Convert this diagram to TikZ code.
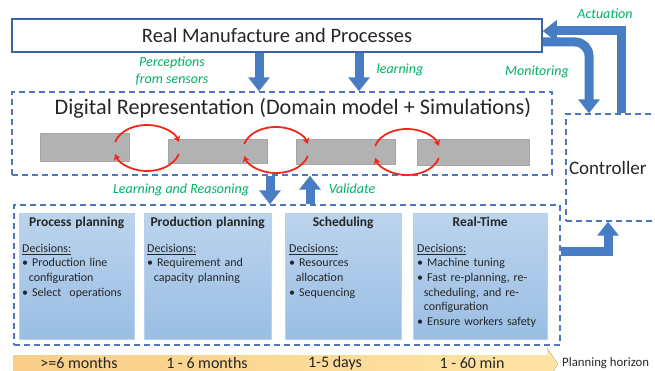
\documentclass[tikz,border=0pt]{standalone}
\usepackage{fontspec}
\setmainfont{Carlito}
\usepackage{xcolor}
\usetikzlibrary{arrows.meta, positioning}

\definecolor{arrowblue}{RGB}{72,125,196}
\definecolor{dashblue}{RGB}{79,118,190}
\definecolor{frameblue}{RGB}{60,100,165}
\definecolor{labgreen}{RGB}{0,176,100}
\definecolor{loopred}{RGB}{240,40,25}
\definecolor{bargray}{RGB}{178,178,178}
\definecolor{boxtop}{RGB}{188,212,237}
\definecolor{boxbot}{RGB}{154,190,228}
\definecolor{timeleft}{RGB}{249,206,135}
\definecolor{timeright}{RGB}{254,228,165}

\newcommand{\dectitlefont}{\fontsize{13.5}{15}\selectfont\bfseries}

\begin{document}
\begin{tikzpicture}[x=1pt, y=-1pt,
    every node/.style={text=black!85},
    realbox/.style={draw=frameblue, line width=1.5pt, fill=white, minimum width=530pt, minimum height=33pt, inner sep=0pt, font=\fontsize{20.5}{24}\selectfont},
    dashbox/.style={draw=dashblue, line width=1.4pt, dash pattern=on 6pt off 4pt, inner sep=0pt},
    simbar/.style={draw=black!35, fill=bargray, inner sep=0pt, anchor=north west},
    cyclearc/.style={draw=loopred, line width=1.8pt, -{Stealth[length=6pt,width=7pt]}},
    fatarrow/.style={draw=arrowblue, line width=9pt, -{Triangle[width=21pt,length=14pt]}},
    decbox/.style={draw=boxbot!70!white, top color=boxtop, bottom color=boxbot, minimum height=126pt, inner sep=0pt, anchor=north west},
    dectext/.style={align=left, inner sep=0pt, font=\fontsize{12}{14.6}\selectfont},
    lbl/.style={text=labgreen, font=\fontsize{14}{16.5}\selectfont\itshape},
    horizon/.style={font=\fontsize{16}{19}\selectfont}
]
    \useasboundingbox (0,0) rectangle (655,371);

    % Real system
    \node[realbox] (real) at (277,35.5) {Real Manufacture and Processes};

    % Digital representation
    \node[dashbox, minimum width=540pt, minimum height=83pt] (digital) at (282,133.5) {};
    \node[font=\fontsize{22.2}{26}\selectfont] (digitaltitle) at (293,108) {Digital Representation (Domain model + Simulations)};
    \node[simbar, minimum width=89pt, minimum height=28pt] (bar1) at (40,133) {};
    \node[simbar, minimum width=99pt, minimum height=24pt] (bar2) at (168,139) {};
    \node[simbar, minimum width=99pt, minimum height=25pt] (bar3) at (296,139) {};
    \node[simbar, minimum width=112pt, minimum height=26pt] (bar4) at (417,139) {};
    \foreach \cx/\cy in {147/148, 276/150, 407/152} {
        \draw[cyclearc] (\cx,\cy) ++(195:33 and 23) arc[start angle=195, end angle=345, x radius=33, y radius=23];
        \draw[cyclearc] (\cx,\cy) ++(15:33 and 23) arc[start angle=15, end angle=165, x radius=33, y radius=23];
    }

    % Decision levels
    \node[dashbox, minimum width=546pt, minimum height=140pt] (decide) at (287,275) {};
    \node[decbox, minimum width=115pt] (procbox) at (19,213) {};
    \node[decbox, minimum width=127pt] (prodbox) at (144,213) {};
    \node[decbox, minimum width=116pt] (schedbox) at (285,213) {};
    \node[decbox, minimum width=134pt] (rtbox) at (413,213) {};
    \node[dectext, text width=109pt, below=4pt of procbox.north] (proctext) {{\centering\dectitlefont Process planning\par}\vspace{11pt}
        \underline{Decisions:}\\
        \textbullet\ Production line\\
        \hspace*{0.55em}configuration\\
        \textbullet\ Select\ \ operations};
    \node[dectext, text width=121pt, below=4pt of prodbox.north] (prodtext) {{\centering\dectitlefont Production planning\par}\vspace{11pt}
        \underline{Decisions:}\\
        \textbullet\ Requirement and\\
        \hspace*{0.55em}capacity planning};
    \node[dectext, text width=108pt, below=4pt of schedbox.north] (schedtext) {{\centering\dectitlefont Scheduling\par}\vspace{11pt}
        \underline{Decisions:}\\
        \textbullet\ Resources\\
        \hspace*{0.55em}allocation\\
        \textbullet\ Sequencing};
    \node[dectext, text width=126pt, below=4pt of rtbox.north] (rttext) {{\centering\dectitlefont Real-Time\par}\vspace{11pt}
        \underline{Decisions:}\\
        \textbullet\ Machine tuning\\
        \textbullet\ Fast re-planning, re-\\
        \hspace*{0.55em}scheduling, and re-\\
        \hspace*{0.55em}configuration\\
        \textbullet\ Ensure workers safety};

    % Controller
    \node[dashbox, minimum width=134pt, minimum height=107pt, text width=128pt, inner sep=3pt, align=left, font=\fontsize{19}{22}\selectfont] (ctrl) at (633,167.5) {Controller};

    % Flows
    \coordinate (perc) at (259,0);
    \coordinate (learn) at (359,0);
    \coordinate (lr) at (270,0);
    \coordinate (val) at (310,0);
    \coordinate (mon) at (589,42);
    \coordinate (act) at (621,31);
    \coordinate (toctrl) at (608,251);
    \draw[fatarrow] (real.south -| perc) -- (digital.north -| perc);
    \draw[fatarrow] (real.south -| learn) -- (digital.north -| learn);
    \draw[fatarrow] (digital.south -| lr) -- (decide.north -| lr);
    \draw[fatarrow] (decide.north -| val) -- (digital.south -| val);
    \draw[fatarrow, rounded corners=14pt] (real.east |- mon) -| (ctrl.north -| mon);
    \draw[fatarrow] (ctrl.north -| act) |- (real.east |- act);
    \draw[fatarrow] (decide.east |- toctrl) -| (ctrl.south -| toctrl);

    \node[lbl, align=center] (perclbl) at (172,71) {Perceptions\\from sensors};
    \node[lbl] (learnlbl) at (400,70) {learning};
    \node[lbl] (monlbl) at (537,72) {Monitoring};
    \node[lbl] (actlbl) at (605,14) {Actuation};
    \node[lbl] (lrlbl) at (181,190) {Learning and Reasoning};
    \node[lbl] (vallbl) at (352,189) {Validate};

    % Planning horizon
    \fill[left color=timeleft, right color=timeright] (13,355) -- (547,355) -- (547,348) -- (558,364) -- (547,380) -- (547,373) -- (13,373) -- cycle;
    \node[horizon] (h1) at (79,363) {>=6 months};
    \node[horizon] (h2) at (207,363) {1 - 6 months};
    \node[horizon] (h3) at (335,363) {1-5 days};
    \node[horizon] (h4) at (472,363) {1 - 60 min};
    \node[font=\fontsize{12.8}{15}\selectfont, anchor=west, inner sep=1pt] (plan) at (561,363) {Planning horizon};
\end{tikzpicture}
\end{document}
